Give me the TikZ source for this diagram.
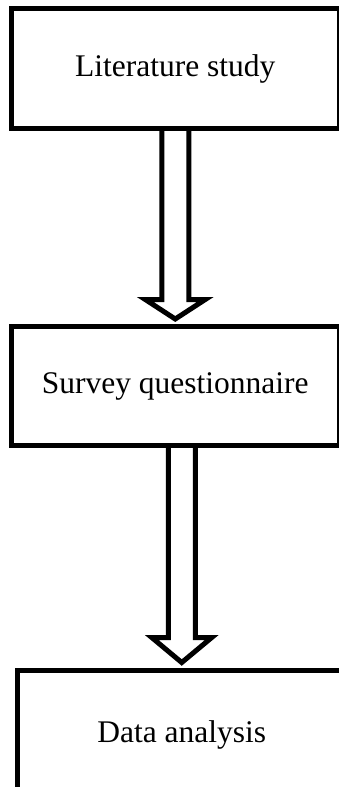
\documentclass[tikz,border=0pt]{standalone}
\usepackage{fontspec}
\setmainfont{Liberation Serif}
\usepackage{tikz}
\usetikzlibrary{calc}

% hollow block arrow from the bottom of #1 to the top of #2, head starts #3 above #2
\newcommand{\hollowarrow}[3]{%
    \draw[blockarrow] let \p1=(#1.south), \p2=(#2.north) in
        (\x2-13.5pt,\y1) -- (\x2-13.5pt,\y2+#3) -- (\x2-30pt,\y2+#3)
        -- (\x2,\y2+7.5pt)
        -- (\x2+30pt,\y2+#3) -- (\x2+13.5pt,\y2+#3) -- (\x2+13.5pt,\y1);
}

\begin{document}
\begin{tikzpicture}[
    x=1pt, y=-1pt,
    stagebox/.style={rectangle, draw, line width=5pt, outer sep=0pt, inner sep=0pt,
        minimum width=328.5pt, align=center, font=\fontsize{31.5}{36}\selectfont},
    blockarrow/.style={draw, line width=5pt, line join=miter}
]
    \useasboundingbox (0,0) rectangle (339,787);
    \clip (0,0) rectangle (339,787);

    % stages
    \node[stagebox, minimum height=120pt] (lit) at (175.25,68.5) {Literature study};
    \node[stagebox, minimum height=119pt] (survey) at (175.25,386) {Survey questionnaire};
    \node[stagebox, minimum height=130pt] (data) at (181.75,735) {Data analysis};

    % arrows
    \hollowarrow{lit}{survey}{27pt}
    \hollowarrow{survey}{data}{32.5pt}
\end{tikzpicture}
\end{document}
